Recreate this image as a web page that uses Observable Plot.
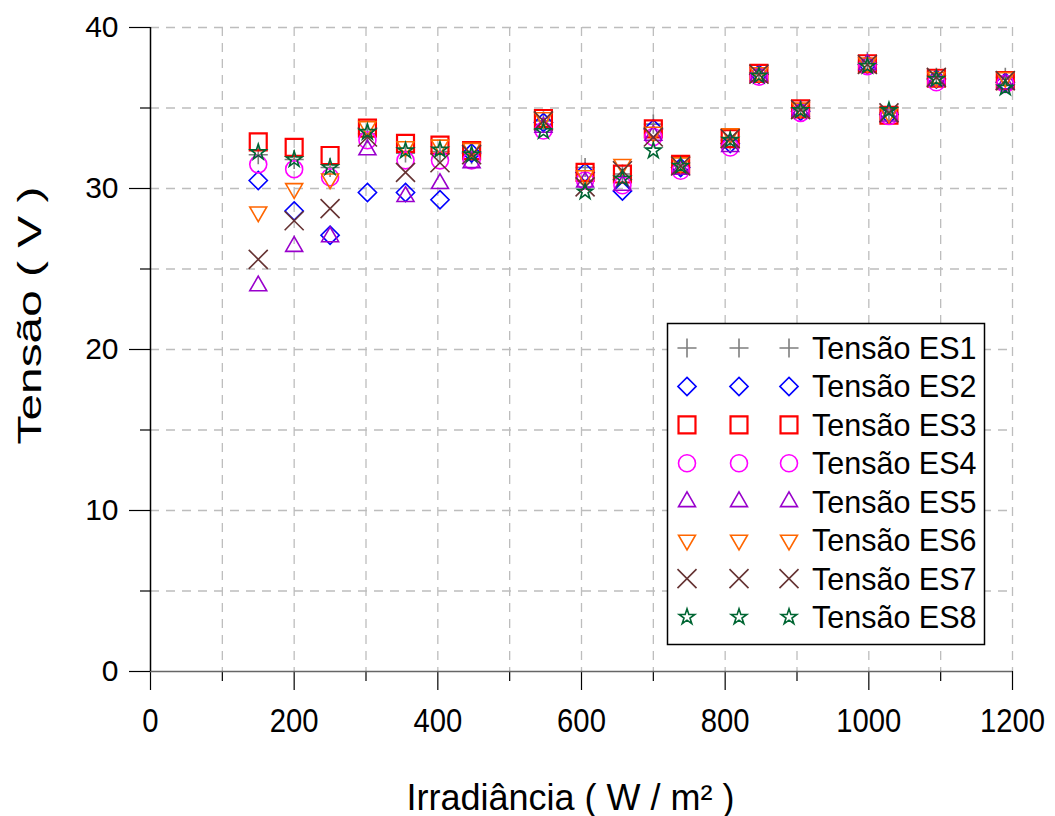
<!DOCTYPE html>
<html>
<head>
<meta charset="utf-8">
<script src="https://cdn.jsdelivr.net/npm/d3@7"></script>
<script src="https://cdn.jsdelivr.net/npm/@observablehq/plot@0.6"></script>
<style>
  html, body { margin: 0; padding: 0; background: #fff; }
  #wrap { position: relative; width: 1055px; height: 816px; font-family: "Liberation Sans", Arial, sans-serif; }
  #legend { position: absolute; left: 667px; top: 323px; }
</style>
</head>
<body>
<div id="wrap"></div>
<script>
// ---- data ----
const irradiance = [150, 200, 250, 302, 355, 403, 447, 547, 605, 657, 700, 738, 807, 847, 905, 998, 1028, 1094, 1190];
const es1 = [32.1, 31.8, 31.3, 33.4, 32.2, 32.3, 32.1, 34.2, 31.3, 30.9, 34.0, 31.4, 33.0, 37.1, 34.9, 37.9, 34.7, 36.9, 36.9];
const es2 = [30.5, 28.6, 27.1, 29.75, 29.75, 29.3, 32.2, 34.1, 31.0, 29.85, 33.7, 31.3, 32.8, 37.1, 34.8, 37.7, 34.6, 36.8, 36.6];
const es3 = [32.9, 32.55, 32.05, 33.75, 32.8, 32.7, 32.35, 34.35, 31.0, 30.9, 33.7, 31.5, 33.1, 37.15, 34.95, 37.75, 34.55, 36.85, 36.7];
const es4 = [31.5, 31.2, 30.7, 33.0, 31.75, 31.75, 31.75, 33.6, 30.5, 30.2, 33.2, 31.1, 32.55, 36.95, 34.7, 37.6, 34.5, 36.6, 36.5];
const es5 = [23.95, 26.4, 27.0, 32.4, 29.5, 30.3, 31.6, 33.8, 30.4, 30.2, 33.3, 31.2, 32.6, 37.0, 34.8, 37.7, 34.5, 36.7, 36.5];
const es6 = [28.55, 30.0, 30.6, 33.85, 32.6, 32.7, 32.5, 34.4, 30.8, 31.5, 33.5, 31.6, 33.4, 37.2, 35.0, 37.8, 34.7, 36.9, 36.9];
const es7 = [25.6, 28.0, 28.75, 33.2, 31.0, 31.6, 32.1, 34.2, 30.1, 31.1, 33.2, 31.4, 33.1, 37.1, 34.9, 37.7, 34.7, 36.9, 36.7];
const es8 = [32.25, 31.8, 31.3, 33.5, 32.35, 32.4, 32.1, 33.55, 29.8, 30.6, 32.35, 31.4, 33.0, 37.0, 34.85, 37.6, 34.85, 36.8, 36.25];
const seriesNames = ["Tensão ES1", "Tensão ES2", "Tensão ES3", "Tensão ES4", "Tensão ES5", "Tensão ES6", "Tensão ES7", "Tensão ES8"];
const xTicks = [0, 200, 400, 600, 800, 1000, 1200];
const xMinorTicks = [100, 300, 500, 700, 900, 1100];
const yTicks = [0, 10, 20, 30, 40];
const yMinorTicks = [5, 15, 25, 35];
const xGrid = [100, 200, 300, 400, 500, 600, 700, 800, 900, 1000, 1100, 1200];
const yGrid = [5, 10, 15, 20, 25, 30, 35, 40];
const xTitle = "Irradiância ( W / m² )";
const yTitle = "Tensão ( V )";

// ---- styles ----
const styles = [
  {symbol: "plus",      stroke: "#7f7f7f", r: 6.2, sw: 1.6, rotate: 0},
  {symbol: "diamond2",  stroke: "#0000ff", r: 8.2, sw: 1.6, rotate: 0},
  {symbol: "square2",   stroke: "#ff0000", r: 10.8, sw: 2.2, rotate: 0},
  {symbol: "circle",    stroke: "#ff00ff", r: 8.5, sw: 1.6, rotate: 0},
  {symbol: "triangle2", stroke: "#9900cc", r: 8.1, sw: 1.6, rotate: 0},
  {symbol: "triangle2", stroke: "#ff6600", r: 8.1, sw: 1.6, rotate: 180},
  {symbol: "times",     stroke: "#663333", r: 8.7, sw: 1.6, rotate: 0},
  {symbol: "star",      stroke: "#006633", r: 4.9, sw: 1.6, rotate: 0}
];
const seriesValues = [es1, es2, es3, es4, es5, es6, es7, es8];
const FONT = "'Liberation Sans', Arial, sans-serif";

const seriesData = seriesValues.map((vals, i) =>
  irradiance.map((x, j) => ({x, y: vals[j], name: seriesNames[i]})));

const gridStyle = {stroke: "#bdbdbd", strokeOpacity: 1, strokeWidth: 1.3, strokeDasharray: "9,7"};

const plot = Plot.plot({
  width: 1055,
  height: 816,
  marginLeft: 150,
  marginRight: 43,
  marginTop: 27,
  marginBottom: 145,
  style: {fontFamily: FONT, background: "white", color: "black", overflow: "visible"},
  x: {domain: [0, 1200]},
  y: {domain: [0, 40]},
  marks: [
    Plot.gridX(xGrid, gridStyle),
    Plot.gridY(yGrid, gridStyle),
    Plot.axisY(yMinorTicks, {tickSize: 10, tickFormat: () => "", label: null, stroke: "black", strokeWidth: 1.2}),
    Plot.axisY(yTicks, {tickSize: 21, tickPadding: 11, fontSize: 30, tickFormat: d => String(d), label: null, stroke: "black", strokeWidth: 1.2}),
    Plot.axisX(xMinorTicks, {tickSize: 10, tickFormat: () => "", label: null, stroke: "black", strokeWidth: 1.2}),
    Plot.axisX(xTicks, {tickSize: 19, tickPadding: 17, fontSize: 34, tickFormat: d => String(d), label: null, stroke: "black", strokeWidth: 1.2}),
    Plot.ruleY([0], {stroke: "#666", strokeWidth: 1.5}),
    Plot.ruleX([0], {stroke: "black", strokeWidth: 1.5}),
    ...seriesData.map((d, i) => Plot.dot(d, {
      x: "x", y: "y",
      symbol: styles[i].symbol,
      r: styles[i].r,
      rotate: styles[i].rotate,
      fill: "none",
      stroke: styles[i].stroke,
      strokeWidth: styles[i].sw
    })),
    Plot.text([xTitle], {frameAnchor: "bottom", dy: 127, dx: -11, fontSize: 36, lineAnchor: "middle", fill: "black"}),
    Plot.text([yTitle], {frameAnchor: "left", dx: -120, dy: -34, rotate: -90, fontSize: 34, textAnchor: "middle", lineAnchor: "middle", fill: "black"})
  ]
});

const wrap = document.getElementById("wrap");
wrap.appendChild(plot);

// stretch the vertical title along its length as in the reference
d3.select(plot).selectAll("text")
  .filter(function() { return this.textContent === yTitle; })
  .attr("textLength", 258)
  .attr("lengthAdjust", "spacingAndGlyphs");

// condensed x tick labels as in the reference
d3.select(plot).selectAll('g[aria-label="x-axis tick label"] text')
  .each(function() {
    const len = this.getComputedTextLength();
    if (len > 0) {
      d3.select(this).attr("textLength", len * 0.86).attr("lengthAdjust", "spacingAndGlyphs");
    }
  });

// ---- legend ----
const legW = 318, legH = 322, rowTop = 25, rowStep = 38.43;
const symbolMap = {
  plus: d3.symbolPlus, diamond2: d3.symbolDiamond2, square2: d3.symbolSquare2,
  circle: d3.symbolCircle, triangle2: d3.symbolTriangle2, times: d3.symbolTimes, star: d3.symbolStar
};
const leg = d3.select(wrap).append("svg")
  .attr("id", "legend")
  .attr("width", legW).attr("height", legH)
  .style("overflow", "visible");
leg.append("rect").attr("x", 0.5).attr("y", 0.5).attr("width", legW - 1).attr("height", legH - 1)
  .attr("fill", "white").attr("stroke", "black").attr("stroke-width", 1.5);
const markerXs = [20, 72, 122];
seriesNames.forEach((name, i) => {
  const s = styles[i];
  const cy = rowTop + i * rowStep;
  const path = d3.symbol(symbolMap[s.symbol], Math.PI * s.r * s.r)();
  markerXs.forEach(mx => {
    leg.append("path")
      .attr("d", path)
      .attr("transform", `translate(${mx},${cy}) rotate(${s.rotate})`)
      .attr("fill", "none")
      .attr("stroke", s.stroke)
      .attr("stroke-width", s.sw);
  });
  leg.append("text")
    .attr("x", 145).attr("y", cy)
    .attr("dy", "0.36em")
    .attr("font-family", FONT)
    .attr("font-size", 30.5)
    .attr("fill", "black")
    .text(name);
});
</script>
</body>
</html>
